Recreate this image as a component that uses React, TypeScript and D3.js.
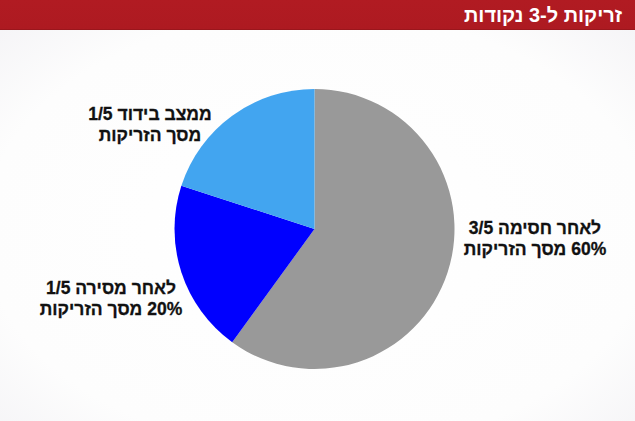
import { useMemo } from 'react';
import * as d3 from 'd3';

const title = 'זריקות ל-3 נקודות';
const categories = ['לאחר חסימה', 'לאחר מסירה', 'ממצב בידוד'];
const values = [60, 20, 20];
const sliceColors = ['#999999', '#0000ff', '#42a5f0'];
const labelLines = [
  ['לאחר חסימה 3/5', '60% מסך הזריקות'],
  ['לאחר מסירה 1/5', '20% מסך הזריקות'],
  ['ממצב בידוד 1/5', 'מסך הזריקות'],
];

const W = 635;
const H = 421;
const HEADER = 30;

export default function App() {
  const cx = 314.5;
  const cy = 229;
  const radius = 140;

  // label anchor points (center of first line), placed by hand like the original
  const labelPos: [number, number][] = [
    [535, 234],
    [111, 294],
    [150, 120],
  ];

  const arcs = useMemo(() => {
    const pie = d3.pie<number>().sort(null).value(d => d);
    return pie(values);
  }, []);

  const arc = d3.arc<d3.PieArcDatum<number>>().innerRadius(0).outerRadius(radius);

  return (
    <svg
      width={W}
      height={H}
      style={{ position: 'absolute', left: 0, top: 0, display: 'block' }}
      fontFamily="'Liberation Sans', Arial, sans-serif"
    >
      <defs>
        <radialGradient id="bg" cx="50%" cy="55%" r="75%">
          <stop offset="0%" stopColor="#ffffff" />
          <stop offset="70%" stopColor="#fdfdfd" />
          <stop offset="100%" stopColor="#f3f2f5" />
        </radialGradient>
        <linearGradient id="hdr" x1="0" y1="0" x2="0" y2="1">
          <stop offset="0%" stopColor="#b11b22" />
          <stop offset="100%" stopColor="#ad1a21" />
        </linearGradient>
      </defs>
      <rect width={W} height={H} fill="url(#bg)" />
      <rect width={W} height={HEADER} fill="url(#hdr)" />
      <rect y={HEADER - 1} width={W} height={1} fill="#8e1419" opacity={0.6} />
      <text
        x={543}
        y={22}
        fill="#ffffff"
        fontSize={20}
        fontWeight="bold"
        textAnchor="middle"
        direction="rtl"
      >
        {title}
      </text>

      <g transform={`translate(${cx},${cy})`}>
        {arcs.map((a, i) => (
          <path key={categories[i]} d={arc(a) || ''} fill={sliceColors[i]} />
        ))}
      </g>

      {labelLines.map((lines, i) => (
        <text
          key={categories[i]}
          x={labelPos[i][0]}
          y={labelPos[i][1]}
          fill="#111111"
          fontSize={17.5}
          fontWeight="bold"
          textAnchor="middle"
          direction="rtl"
          stroke="#111111"
          strokeWidth={0.3}
        >
          {lines.map((l, j) => (
            <tspan key={j} x={labelPos[i][0]} dy={j === 0 ? 0 : 21}>
              {l}
            </tspan>
          ))}
        </text>
      ))}
    </svg>
  );
}
